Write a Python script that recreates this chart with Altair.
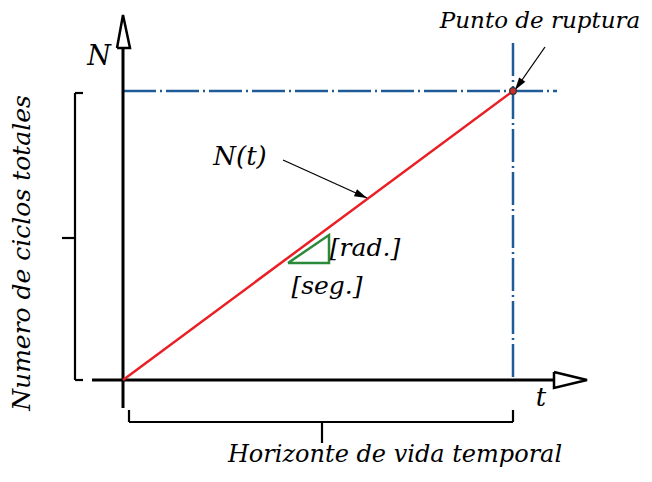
import math
import altair as alt
import pandas as pd

# ---- diagram geometry (reference pixel space) ----
origin = (123, 380)
rupture = (513, 91)

axis_x1 = [123, 92]
axis_y1 = [408, 380]
axis_x2 = [123, 554]
axis_y2 = [48, 380]

bracket_x1 = [83, 75, 75, 62, 129, 129, 513, 322]
bracket_y1 = [93, 93, 380, 238, 410, 422, 422, 422]
bracket_x2 = [75, 75, 83, 75, 129, 513, 513, 322]
bracket_y2 = [93, 380, 380, 238, 422, 422, 410, 443]

guide_x1 = [123, 513]
guide_y1 = [91, 43]
guide_x2 = [557, 513]
guide_y2 = [91, 380]

curve_x = [origin[0], rupture[0]]
curve_y = [origin[1], rupture[1]]

head_id = ["y", "y", "y", "y", "x", "x", "x", "x"]
head_x = [117, 130, 123, 117, 554, 554, 587, 554]
head_y = [48, 48, 15, 48, 372, 388, 380, 372]

slope_x = [288, 329, 329, 288]
slope_y = [263, 263, 235, 263]

arrow_x1 = [283, 545]
arrow_y1 = [160, 47]
arrow_x2 = [367, 515]
arrow_y2 = [198, 90]

labels = ["N", "Punto de ruptura", "N(t)", "[rad.]", "[seg.]", "t",
          "Horizonte de vida temporal"]
label_x = [99, 540, 240, 365, 327, 541, 395]
label_y = [57, 21, 157, 248, 286, 398, 455]
label_size = [27, 23, 26, 25, 25, 26, 24]

vlabel = "Numero de ciclos totales"
vlabel_x = 22
vlabel_y = 253

FONT = "DejaVu Serif"

xs = alt.Scale(domain=[8, 644], nice=False, zero=False)
ys = alt.Scale(domain=[8, 468], nice=False, zero=False, reverse=True)


def seg_df(x1, y1, x2, y2):
    return pd.DataFrame({"x": x1, "y": y1, "x2": x2, "y2": y2})


def seg_layer(df, **kw):
    return alt.Chart(df).mark_rule(**kw).encode(
        x=alt.X("x:Q", scale=xs, axis=None),
        y=alt.Y("y:Q", scale=ys, axis=None),
        x2="x2:Q", y2="y2:Q")


axes = seg_layer(seg_df(axis_x1, axis_y1, axis_x2, axis_y2),
                 color="black", strokeWidth=3)
brackets = seg_layer(seg_df(bracket_x1, bracket_y1, bracket_x2, bracket_y2),
                     color="black", strokeWidth=2.2)
guides = seg_layer(seg_df(guide_x1, guide_y1, guide_x2, guide_y2),
                   color="#1f5b97", strokeWidth=2.5, strokeDash=[33, 4, 2, 4])

curve = alt.Chart(pd.DataFrame({"x": curve_x, "y": curve_y})).mark_line(
    color="#ea1f25", strokeWidth=2.5).encode(
    x=alt.X("x:Q", scale=xs, axis=None), y=alt.Y("y:Q", scale=ys, axis=None))

heads_df = pd.DataFrame({"x": head_x, "y": head_y, "id": head_id,
                         "o": list(range(len(head_x)))})
heads = alt.Chart(heads_df).mark_line(color="black", strokeWidth=2.5,
                                      strokeJoin="miter").encode(
    x=alt.X("x:Q", scale=xs, axis=None), y=alt.Y("y:Q", scale=ys, axis=None),
    detail="id:N", order="o:Q")

slope = alt.Chart(pd.DataFrame({"x": slope_x, "y": slope_y,
                                "o": list(range(len(slope_x)))})).mark_line(
    color="#2a8a3a", strokeWidth=2.5, strokeJoin="miter").encode(
    x=alt.X("x:Q", scale=xs, axis=None), y=alt.Y("y:Q", scale=ys, axis=None),
    order="o:Q")

thin = seg_layer(seg_df(arrow_x1, arrow_y1, arrow_x2, arrow_y2),
                 color="black", strokeWidth=1.3)
ang = [math.degrees(math.atan2(b2 - b1, a2 - a1)) % 360
       for a1, b1, a2, b2 in zip(arrow_x1, arrow_y1, arrow_x2, arrow_y2)]
tips = alt.Chart(pd.DataFrame({"x": arrow_x2, "y": arrow_y2, "a": ang})).mark_point(
    shape="M0,0 L-2,-0.6 L-2,0.6 Z", filled=True, color="black", opacity=1,
    size=160).encode(
    x=alt.X("x:Q", scale=xs, axis=None), y=alt.Y("y:Q", scale=ys, axis=None),
    angle=alt.Angle("a:Q", scale=None))

dot = alt.Chart(pd.DataFrame({"x": [rupture[0]], "y": [rupture[1]]})).mark_point(
    shape="circle", filled=True, fill="#c8302f", stroke="#333333",
    strokeWidth=1.2, size=45, opacity=1).encode(
    x=alt.X("x:Q", scale=xs, axis=None), y=alt.Y("y:Q", scale=ys, axis=None))

text = alt.Chart(pd.DataFrame({"x": label_x, "y": label_y, "t": labels,
                               "s": label_size})).mark_text(
    font=FONT, fontStyle="italic", align="center", baseline="middle",
    color="black").encode(
    x=alt.X("x:Q", scale=xs, axis=None), y=alt.Y("y:Q", scale=ys, axis=None),
    text="t:N", size=alt.Size("s:Q", scale=None))

vtext = alt.Chart(pd.DataFrame({"x": [vlabel_x], "y": [vlabel_y],
                                "t": [vlabel]})).mark_text(
    font=FONT, fontStyle="italic", fontSize=25, angle=270, align="center",
    baseline="middle", color="black").encode(
    x=alt.X("x:Q", scale=xs, axis=None), y=alt.Y("y:Q", scale=ys, axis=None),
    text="t:N")

chart = alt.layer(guides, brackets, axes, heads, curve, slope, thin, tips, dot,
                  text, vtext).properties(
    width=636, height=460, padding=0,
    autosize=alt.AutoSizeParams(type="none"),
    background="white").configure_view(stroke=None)

chart.save("out.html", embed_options={"renderer": "svg", "actions": False})
